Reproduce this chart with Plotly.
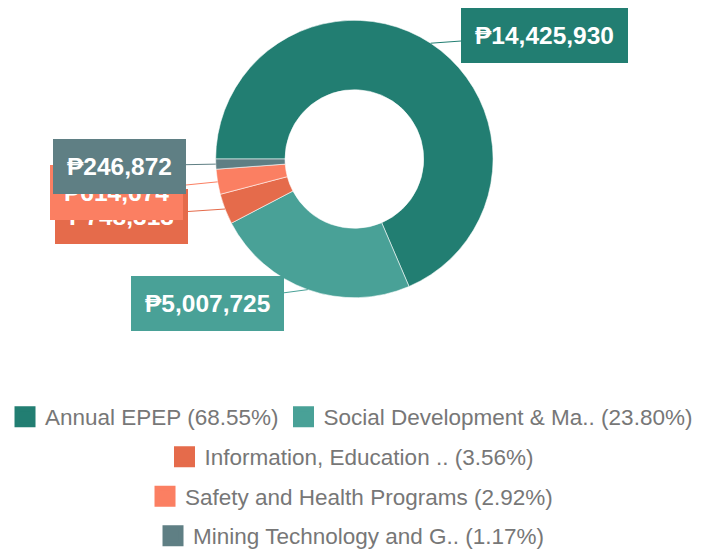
import math
import plotly.graph_objects as go

# ---- data ----
labels = ["Annual EPEP", "Social Development & Ma..", "Information, Education ..",
          "Safety and Health Programs", "Mining Technology and G.."]
values = [14425930, 5007725, 748313, 614674, 246872]
colors = ["#227e72", "#49a197", "#e56b4b", "#fb7f62", "#5f7f84"]

# legend rows (index lists into labels)
legend_rows = [[0, 1], [2], [3], [4]]

# ---- layout constants ----
W, H = 713, 552
ROT = 270
DOM_X = [0.0, 0.994]
DOM_Y = [0.4607, 0.9632]
# label box centres in pixels (layout positions)
box_px = [(544, 35), (207, 303), (121, 216), (116, 192), (119, 166)]
row_y_px = [417, 457, 496.5, 536]

total = sum(values)
pct = [v / total * 100 for v in values]

fig = go.Figure()
fig.add_trace(go.Pie(
    labels=labels, values=values, hole=0.5, sort=False, direction="clockwise",
    rotation=ROT, textinfo="none", showlegend=False,
    marker=dict(colors=colors, line=dict(color="rgba(255,255,255,0.8)", width=0.7)),
    domain=dict(x=DOM_X, y=DOM_Y),
))

# legend entries via invisible markers, one legend per row
for r, row in enumerate(legend_rows):
    lname = "legend" if r == 0 else f"legend{r+1}"
    for i in row:
        fig.add_trace(go.Scatter(
            x=[None], y=[None], mode="markers", name=f"{labels[i]} ({pct[i]:.2f}%)",
            marker=dict(symbol="square", size=16, color=colors[i],
                        line=dict(color=colors[i], width=5)),
            legend=lname, showlegend=True,
        ))

legend_font = dict(family="Liberation Sans, Arial, sans-serif", size=22.5, color="#777777")
for r in range(len(legend_rows)):
    lname = "legend" if r == 0 else f"legend{r+1}"
    fig.update_layout(**{lname: dict(
        orientation="h", x=0.493, xanchor="center", y=1 - row_y_px[r] / H, yanchor="middle",
        font=legend_font, bgcolor="rgba(0,0,0,0)", itemclick=False,
    )})

# callout annotations
cx = (DOM_X[0] + DOM_X[1]) / 2
cy = (DOM_Y[0] + DOM_Y[1]) / 2
rad = min((DOM_X[1] - DOM_X[0]) * W, (DOM_Y[1] - DOM_Y[0]) * H) / 2
cum = 0
anchors = []
for v in values:
    mid = cum + v / 2
    cum += v
    a = math.radians(ROT + mid / total * 360)
    anchors.append((cx + rad * math.sin(a) / W, cy + rad * math.cos(a) / H))

order = [2, 3, 4, 0, 1]
for i in order:
    axp, ayp = anchors[i]
    px = axp * W
    py = (1 - ayp) * H
    bx, by = box_px[i]
    fig.add_annotation(
        x=axp, y=ayp, xref="paper", yref="paper",
        text=f"<b>₱{values[i]:,}</b>", showarrow=True, arrowhead=0, arrowwidth=1,
        arrowcolor=colors[i], ax=bx - px, ay=by - py, standoff=0,
        bgcolor=colors[i], bordercolor=colors[i], borderwidth=1, borderpad=13,
        font=dict(family="Liberation Sans, Arial, sans-serif", size=24.5, color="white"),
    )

fig.update_layout(
    width=W, height=H, margin=dict(l=0, r=0, t=0, b=0, autoexpand=False),
    paper_bgcolor="white", plot_bgcolor="white",
    xaxis=dict(visible=False), yaxis=dict(visible=False),
)
fig.write_html("out.html", config={"displayModeBar": False},
               post_script="document.body.style.margin='0';")
